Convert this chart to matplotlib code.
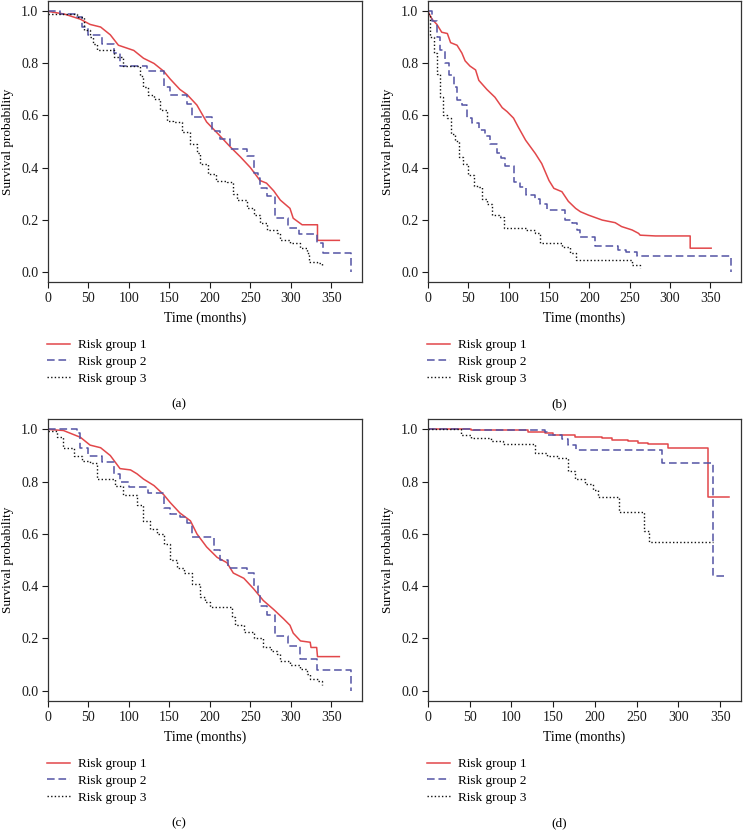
import matplotlib
matplotlib.use("Agg")
import matplotlib.pyplot as plt

plt.rcParams['font.family'] = ['Liberation Serif', 'DejaVu Serif']

# ---- data (time in months, survival probability) ----
# panel (a)
a_g1_t = [0, 20, 40, 52, 65, 77, 87, 106, 118, 131, 143, 151, 163, 172, 184, 196, 213, 225, 238, 250, 262, 270, 279, 287, 299, 303, 314, 333, 333, 360]
a_g1_s = [1.0, 0.99, 0.97, 0.95, 0.94, 0.91, 0.87, 0.85, 0.82, 0.80, 0.77, 0.74, 0.70, 0.68, 0.64, 0.575, 0.52, 0.48, 0.44, 0.40, 0.35, 0.34, 0.31, 0.275, 0.243, 0.205, 0.18, 0.18, 0.12, 0.12]
a_g2_t = [0, 15, 35, 42, 50, 67, 81, 89, 122, 143, 151, 172, 178, 203, 213, 225, 246, 254, 260, 262, 270, 281, 297, 310, 332, 340, 375, 375]
a_g2_s = [1.0, 0.99, 0.98, 0.94, 0.91, 0.875, 0.84, 0.79, 0.77, 0.71, 0.68, 0.645, 0.595, 0.54, 0.51, 0.47, 0.445, 0.38, 0.36, 0.32, 0.29, 0.205, 0.166, 0.143, 0.11, 0.073, 0.073, 0.0]
a_g3_t = [0, 36, 44, 52, 56, 60, 81, 93, 114, 118, 124, 131, 139, 147, 155, 166, 176, 184, 188, 198, 207, 221, 229, 233, 246, 254, 262, 270, 283, 287, 299, 312, 320, 322, 332, 338]
a_g3_s = [0.99, 0.98, 0.93, 0.90, 0.875, 0.853, 0.825, 0.79, 0.75, 0.71, 0.68, 0.665, 0.62, 0.58, 0.575, 0.537, 0.49, 0.454, 0.415, 0.377, 0.35, 0.345, 0.30, 0.275, 0.243, 0.217, 0.185, 0.16, 0.147, 0.12, 0.11, 0.09, 0.07, 0.038, 0.032, 0.02]

# panel (b)
b_g1_t = [0, 5, 11, 17, 24, 28, 36, 42, 46, 52, 59, 63, 73, 83, 92, 98, 106, 112, 121, 133, 141, 150, 156, 166, 174, 183, 189, 199, 216, 232, 240, 253, 261, 263, 282, 325, 325, 351]
b_g1_s = [1.0, 0.97, 0.95, 0.92, 0.915, 0.88, 0.87, 0.84, 0.81, 0.79, 0.775, 0.735, 0.70, 0.67, 0.63, 0.615, 0.59, 0.555, 0.505, 0.454, 0.415, 0.35, 0.32, 0.307, 0.27, 0.243, 0.23, 0.217, 0.198, 0.188, 0.173, 0.16, 0.147, 0.14, 0.137, 0.137, 0.09, 0.09]
b_g2_t = [0, 5, 11, 15, 21, 26, 32, 36, 42, 48, 55, 63, 71, 77, 86, 90, 96, 106, 114, 121, 133, 139, 147, 170, 179, 185, 189, 207, 236, 245, 259, 375, 375]
b_g2_s = [1.0, 0.965, 0.90, 0.85, 0.80, 0.755, 0.71, 0.66, 0.64, 0.59, 0.57, 0.545, 0.52, 0.49, 0.454, 0.435, 0.405, 0.345, 0.326, 0.295, 0.28, 0.26, 0.237, 0.198, 0.185, 0.16, 0.134, 0.10, 0.083, 0.077, 0.06, 0.06, 0.0]
b_g3_t = [0, 3, 7, 11, 15, 19, 24, 28, 34, 38, 44, 50, 57, 63, 67, 73, 79, 88, 94, 121, 133, 139, 166, 176, 183, 253, 263]
b_g3_s = [0.99, 0.90, 0.84, 0.76, 0.67, 0.60, 0.59, 0.53, 0.50, 0.44, 0.415, 0.37, 0.33, 0.326, 0.28, 0.26, 0.217, 0.21, 0.168, 0.16, 0.147, 0.11, 0.096, 0.07, 0.045, 0.026, 0.013]

# panel (c)
c_g1_t = [0, 19, 40, 52, 65, 77, 89, 102, 110, 118, 131, 143, 151, 163, 176, 184, 196, 209, 221, 229, 242, 254, 266, 279, 291, 299, 303, 312, 324, 325, 332, 333, 360]
c_g1_s = [1.0, 0.996, 0.97, 0.94, 0.93, 0.90, 0.85, 0.845, 0.83, 0.81, 0.785, 0.75, 0.72, 0.68, 0.65, 0.60, 0.55, 0.51, 0.49, 0.45, 0.43, 0.39, 0.345, 0.31, 0.275, 0.25, 0.22, 0.19, 0.185, 0.165, 0.165, 0.13, 0.13]
c_g2_t = [0, 36, 40, 50, 67, 81, 89, 100, 124, 143, 151, 163, 172, 178, 205, 213, 223, 246, 254, 260, 262, 270, 281, 297, 312, 332, 375, 375]
c_g2_s = [1.0, 0.985, 0.93, 0.90, 0.875, 0.83, 0.80, 0.78, 0.755, 0.70, 0.675, 0.665, 0.64, 0.59, 0.54, 0.50, 0.47, 0.45, 0.40, 0.37, 0.325, 0.29, 0.21, 0.17, 0.12, 0.08, 0.08, 0.0]
c_g3_t = [0, 11, 19, 32, 42, 52, 60, 83, 93, 110, 118, 126, 135, 143, 151, 159, 168, 178, 188, 194, 200, 227, 231, 242, 254, 266, 275, 283, 287, 299, 312, 320, 324, 334, 338]
c_g3_s = [0.995, 0.97, 0.93, 0.90, 0.88, 0.87, 0.81, 0.785, 0.75, 0.71, 0.65, 0.62, 0.60, 0.56, 0.50, 0.47, 0.45, 0.41, 0.36, 0.34, 0.32, 0.28, 0.25, 0.225, 0.20, 0.166, 0.15, 0.14, 0.115, 0.096, 0.083, 0.064, 0.045, 0.038, 0.02]

# panel (d)
d_g1_t = [0, 52, 120, 140, 150, 164, 176, 208, 220, 240, 251, 263, 287, 335, 361]
d_g1_s = [1.0, 0.996, 0.99, 0.986, 0.98, 0.977, 0.97, 0.968, 0.96, 0.957, 0.95, 0.945, 0.93, 0.74, 0.74]
d_g2_t = [0, 54, 140, 142, 160, 168, 177, 280, 342, 355]
d_g2_s = [1.0, 0.996, 0.99, 0.977, 0.964, 0.94, 0.92, 0.87, 0.437, 0.437]
d_g3_t = [0, 40, 52, 76, 90, 128, 142, 156, 168, 176, 188, 198, 204, 229, 259, 265, 341]
d_g3_s = [1.0, 0.98, 0.968, 0.955, 0.945, 0.91, 0.90, 0.89, 0.84, 0.81, 0.79, 0.77, 0.74, 0.685, 0.61, 0.57, 0.57]

panels = [
    ("(a)", [(a_g1_t, a_g1_s), (a_g2_t, a_g2_s), (a_g3_t, a_g3_s)], 388),
    ("(b)", [(b_g1_t, b_g1_s), (b_g2_t, b_g2_s), (b_g3_t, b_g3_s)], 388),
    ("(c)", [(c_g1_t, c_g1_s), (c_g2_t, c_g2_s), (c_g3_t, c_g3_s)], 388),
    ("(d)", [(d_g1_t, d_g1_s), (d_g2_t, d_g2_s), (d_g3_t, d_g3_s)], 375),
]
group_labels = ["Risk group 1", "Risk group 2", "Risk group 3"]
styles = [
    dict(color="#e2474a", lw=1.1, ls="-"),
    dict(color="#5454a4", lw=1.1, ls=(0, (5, 2.5))),
    dict(color="#111111", lw=1.0, ls=(0, (1, 1.6))),
]
# group 1 in (a)-(c) has so many events it reads as a smooth curve
drawstyles = [
    ["default", "steps-post", "steps-post"],
    ["default", "steps-post", "steps-post"],
    ["default", "steps-post", "steps-post"],
    ["steps-post", "steps-post", "steps-post"],
]

W, H = 743, 839
fig = plt.figure(figsize=(W / 100, H / 100), dpi=100)

# pixel boxes: left, top, right, bottom of each axes
boxes = [(48, 1, 362, 282), (428, 1, 741, 282), (48, 419, 362, 701), (428, 419, 741, 701)]

for (cap, curves, xmax), (l, t, r, b), dss in zip(panels, boxes, drawstyles):
    ax = fig.add_axes([l / W, 1 - b / H, (r - l) / W, (b - t) / H])
    for (tt, ss), st, lab, ds in zip(curves, styles, group_labels, dss):
        ax.plot(tt, ss, drawstyle=ds, label=lab, **st)
    ax.set_xlim(0, xmax)
    ax.set_ylim(-0.04, 1.04)
    ax.set_xticks([0, 50, 100, 150, 200, 250, 300, 350])
    ax.set_yticks([0.0, 0.2, 0.4, 0.6, 0.8, 1.0])
    ax.set_yticklabels(["0.0", "0.2", "0.4", "0.6", "0.8", "1.0"])
    ax.tick_params(direction="out", length=4, width=0.8, labelsize=10, colors="#1a1a1a", pad=3)
    for sp in ax.spines.values():
        sp.set_linewidth(0.9)
        sp.set_color("#333333")
    ax.set_xlabel("Time (months)", fontsize=10, labelpad=5)
    ax.set_ylabel("Survival probability", fontsize=9.5, labelpad=5)
    ax.legend(loc="upper left", bbox_to_anchor=(l / W - 0.002, 1 - (b + 57) / H),
              bbox_transform=fig.transFigure, frameon=False, fontsize=9.5,
              handlelength=1.8, handletextpad=0.6, labelspacing=0.34, borderpad=0, borderaxespad=0)
    fig.text((l + 131) / W, 1 - (b + 122) / H, cap, ha="center", va="center", fontsize=9.5)

fig.savefig("out.png", dpi=100)
